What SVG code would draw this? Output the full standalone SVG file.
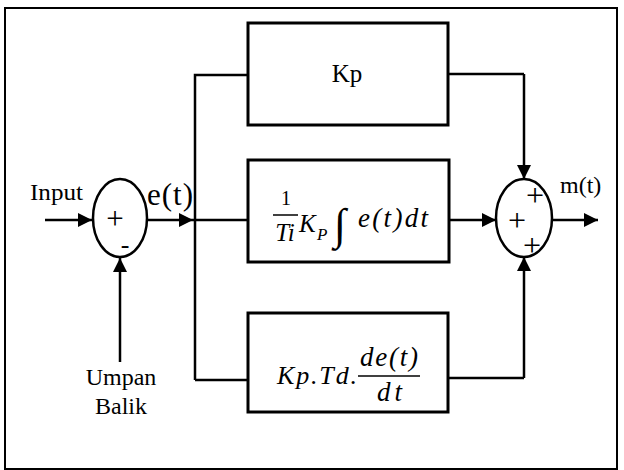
<svg xmlns="http://www.w3.org/2000/svg" width="624" height="470" viewBox="0 0 624 470">
<defs>
<marker id="a" viewBox="0 0 12 12" refX="12" refY="6" markerWidth="14" markerHeight="14" markerUnits="userSpaceOnUse" orient="auto">
<path d="M0,0 L12,6 L0,12 z" fill="#000"/>
</marker>
</defs>
<style>
.box{fill:#fff;stroke:#000;stroke-width:3}
.ln{fill:none;stroke:#000;stroke-width:2.5}
.arr{fill:none;stroke:#000;stroke-width:2.5;marker-end:url(#a)}
text{font-family:'Liberation Serif','Times New Roman',serif;fill:#000}
.m{font-style:italic}
</style>
<rect x="5" y="8" width="612" height="461" fill="#fff" stroke="#000" stroke-width="2"/>
<g id="connectors">
<path class="arr" d="M45,220 L92,220"/>
<path class="arr" d="M147,220 L193,220"/>
<path class="ln" d="M193,220 L248,220"/>
<path class="ln" d="M195,380 L195,75 L248,75"/>
<path class="ln" d="M195,380 L248,380"/>
<path class="arr" d="M120,362 L120,258"/>
<path class="ln" d="M448,74 L524,74"/>
<path class="arr" d="M524,74 L524,179"/>
<path class="arr" d="M449,220 L496,220"/>
<path class="ln" d="M448,378 L524,378"/>
<path class="arr" d="M524,378 L524,257"/>
<path class="arr" d="M552,220 L598,220"/>
</g>
<g id="input-label"><text x="30" y="200" font-size="24" textLength="53" lengthAdjust="spacingAndGlyphs">Input</text></g>
<g id="sum1">
<ellipse cx="120" cy="218" rx="27" ry="39" fill="#fff" stroke="#000" stroke-width="2.5"/>
<text x="115" y="229" font-size="31" text-anchor="middle">+</text>
<text x="125" y="253" font-size="26" text-anchor="middle">-</text>
</g>
<g id="et-label"><text x="147" y="205" font-size="31" textLength="46" lengthAdjust="spacing">e(t)</text></g>
<g id="feedback-label">
<text x="121" y="385" font-size="24" text-anchor="middle">Umpan</text>
<text x="121" y="414" font-size="24" text-anchor="middle">Balik</text>
</g>
<g id="kp-box">
<rect class="box" x="248" y="23" width="200" height="102"/>
<text x="347" y="82" font-size="25" text-anchor="middle">Kp</text>
</g>
<g id="i-box">
<rect class="box" x="248" y="160" width="201" height="102"/>
<text x="286" y="205" font-size="20" text-anchor="middle">1</text>
<line x1="273" y1="215" x2="298" y2="215" stroke="#000" stroke-width="1.5"/>
<text class="m" x="285" y="241" font-size="25" text-anchor="middle">Ti</text>
<text class="m" x="299" y="232" font-size="25">K</text>
<text class="m" x="317" y="240" font-size="17">P</text>
<text class="m" x="334" y="239" font-size="44">∫</text>
<text class="m" x="358" y="227" font-size="27" textLength="70" lengthAdjust="spacing">e(t)dt</text>
</g>
<g id="d-box">
<rect class="box" x="248" y="313" width="200" height="99"/>
<text class="m" x="277" y="384" font-size="26" textLength="80" lengthAdjust="spacing">Kp.Td.</text>
<line x1="358" y1="376" x2="420" y2="376" stroke="#000" stroke-width="1.5"/>
<text class="m" x="360" y="366" font-size="27" textLength="58" lengthAdjust="spacing">de(t)</text>
<text class="m" x="377" y="401" font-size="27" textLength="25" lengthAdjust="spacing">dt</text>
</g>
<g id="sum2">
<ellipse cx="524" cy="218" rx="28" ry="39" fill="#fff" stroke="#000" stroke-width="2.5"/>
<text x="535" y="206" font-size="32" text-anchor="middle">+</text>
<text x="517" y="231" font-size="32" text-anchor="middle">+</text>
<text x="532" y="256" font-size="32" text-anchor="middle">+</text>
</g>
<g id="mt-label"><text x="560" y="193" font-size="24">m(t)</text></g>
</svg>
